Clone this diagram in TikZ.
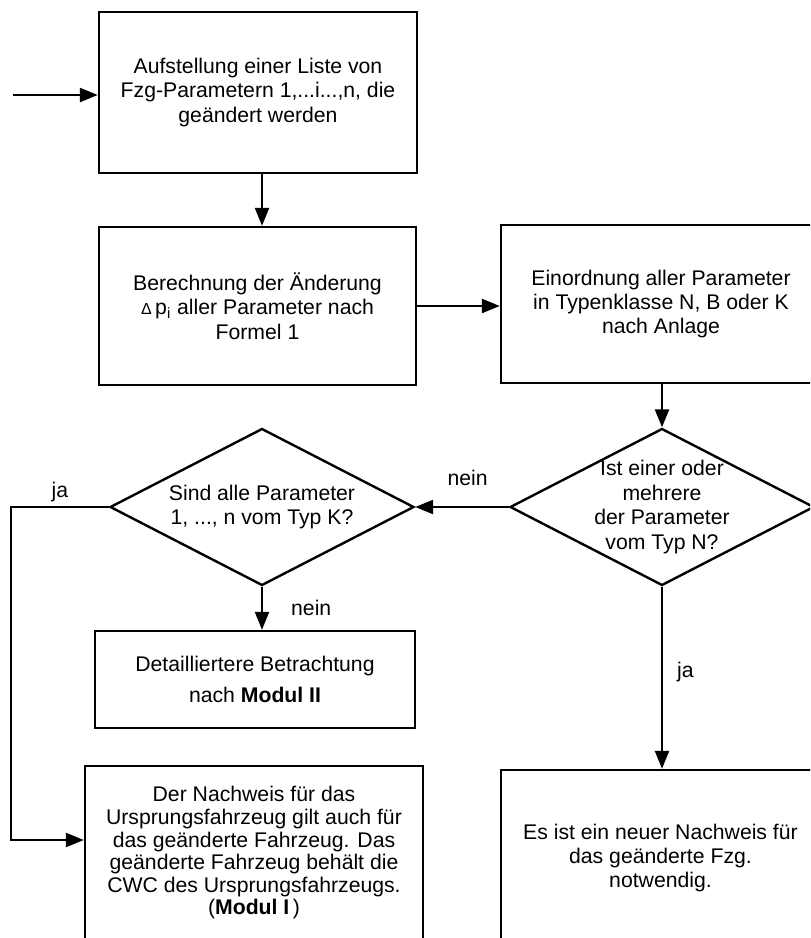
\documentclass[tikz,border=0pt]{standalone}
\usepackage{fontspec}
\setmainfont{Liberation Sans}
\usetikzlibrary{shapes.geometric,arrows.meta}

\begin{document}
\begin{tikzpicture}[x=.5pt,y=-.5pt,line width=1.2pt,
    font=\fontsize{10.6}{12.2}\selectfont,
    >={Triangle[length=9pt,width=7pt]},
    lbl/.style={inner sep=0pt}]

        \useasboundingbox (0,0) rectangle (810,938);
        \clip (0,0) rectangle (810,938);

        \begin{scope}[every node/.style={rectangle,draw,align=center,inner sep=0pt}]
          \node[minimum width=159pt,minimum height=80.5pt] (aufst)  at (258,92.5) {Aufstellung einer Liste von\\ Fzg-Parametern 1,...i...,n, die\\ geändert werden};
          \node[minimum width=158.5pt,minimum height=79pt] (berech) at (257.5,306) {Berechnung der Änderung\\ {\fontsize{8}{8}\selectfont Δ}\,p\textsubscript{i} aller Parameter nach\\ Formel 1};
          \node[minimum width=160pt,minimum height=79pt] (einord) at (661,304) {Einordnung aller Parameter\\ in Typenklasse N, B oder K\\ nach Anlage};
          \node[minimum width=160pt,minimum height=48.5pt] (modul2) at (255,679.5) {Detailliertere Betrachtung\\[3pt] nach \textbf{Modul II}};
          \node[minimum width=169pt,minimum height=87pt,font=\fontsize{10.6}{11.3}\selectfont] (modul1) at (254,853) {Der Nachweis für das\\ Ursprungsfahrzeug gilt auch für\\ das geänderte Fahrzeug. Das\\ geänderte Fahrzeug behält die\\ CWC des Ursprungsfahrzeugs.\\ (\textbf{Modul I}\,)};
          \node[minimum width=159.5pt,minimum height=88pt] (neu) at (660.5,858) {Es ist ein neuer Nachweis für\\ das geänderte Fzg.\\ notwendig.};
        \end{scope}

        \begin{scope}[every node/.style={diamond,draw,minimum width=152pt,minimum height=78.5pt,inner sep=0pt}]
          \node (typk) at (262,507) {};
          \node (typn) at (662,507) {};
        \end{scope}

        \node[align=center] (typktext) at (typk) {Sind alle Parameter\\ 1, ..., n vom Typ K?};
        \node[align=center] (typntext) at (typn) {Ist einer oder\\ mehrere\\ der Parameter\\ vom Typ N?};

        \coordinate (eingang) at (13,95);
        \coordinate (jaoben)  at (11,507);
        \coordinate (jaunten) at (11,840);

        \begin{scope}[every edge/.style={draw,->}]
          \path (eingang) edge (eingang -| aufst.west);
          \path (aufst.south -| typk) edge (berech.north -| typk);
          \path (berech.east) edge (berech.east -| einord.west);
          \path (einord.south -| typn) edge (typn.north);
          \path (typn.west) edge node[lbl,pos=.44,above=10pt] {nein} (typk.east);
          \path (typk.south) edge node[lbl,right=14pt] {nein} (modul2.north -| typk);
          \path (typn.south) edge node[lbl,pos=.47,right=7pt] {ja} (neu.north -| typn);
        \end{scope}

        \draw[->] (typk.west) -- node[lbl,above=2pt] {ja} (jaoben) -- (jaunten) -- (jaunten -| modul1.west);

      \end{tikzpicture}
\end{document}
